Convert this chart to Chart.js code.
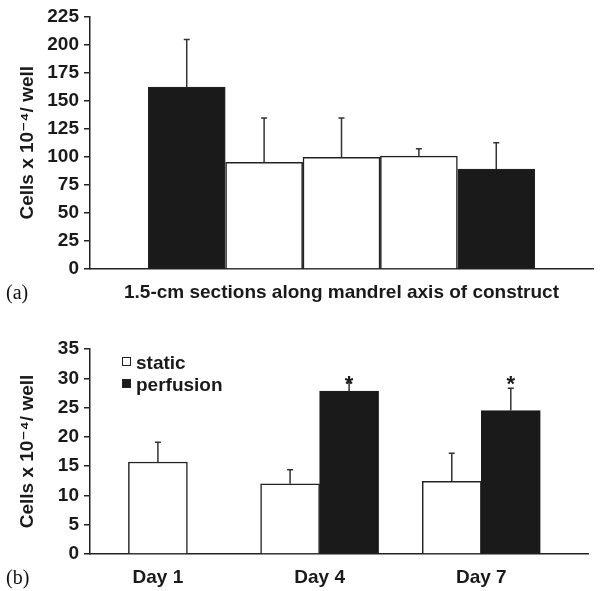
<!DOCTYPE html>
<html>
<head>
<meta charset="utf-8">
<script src="https://cdn.jsdelivr.net/npm/chart.js@4"></script>
<style>
  body { margin: 0; background: #fff; }
  #wrap { position: relative; width: 600px; height: 591px; background: #fff; overflow: hidden; }
  .box { position: absolute; left: 0; width: 600px; }
  .panel { position: absolute; font-family: "Liberation Serif", serif; font-size: 20px; color: #111; line-height: 20px; }
</style>
</head>
<body>
<div id="wrap">
  <div class="box" style="top:0;height:305px"><canvas id="chartA"></canvas></div>
  <div class="box" style="top:300px;height:291px"><canvas id="chartB"></canvas></div>
  <div class="panel" style="left:6px;top:282px">(a)</div>
  <div class="panel" style="left:6px;top:567px">(b)</div>
</div>
<script>
// panel (a): five 1.5-cm sections
const sections = ['1', '2', '3', '4', '5'];
const sectionPos = [1, 2, 3, 4, 5];
const sectionMeans = [162, 95, 99.5, 100.5, 89];
const sectionErr = [42.5, 39.5, 35, 6.5, 23.5];
const sectionFill = ['#1a1a1a', '#ffffff', '#ffffff', '#ffffff', '#1a1a1a'];
const ticksA = [0, 25, 50, 75, 100, 125, 150, 175, 200, 225];

// panel (b): static vs perfusion
const days = ['Day 1', 'Day 4', 'Day 7'];
const dayPos = [1, 2, 3];
const staticMeans = [15.7, 12.0, 12.4];
const staticErr = [3.4, 2.4, 4.8];
const perfusionMeans = [null, 27.8, 24.5];
const perfusionErr = [null, 1.5, 3.8];
const perfusionSig = [false, true, true];
const ticksB = [0, 5, 10, 15, 20, 25, 30, 35];

const INK = '#1a1a1a';
const FONT = '"Liberation Sans", Arial, "DejaVu Sans", sans-serif';
const yTitle = 'Cells x 10\u207B\u2074/ well';

const errorBars = {
    id: 'errorBars',
    afterDatasetsDraw(chart) {
        const ctx = chart.ctx;
        const yScale = chart.scales.y;
        let starLevel = null;
        const stars = [];
        chart.data.datasets.forEach((ds, i) => {
            if (!ds.errors) return;
            const meta = chart.getDatasetMeta(i);
            meta.data.forEach((bar, j) => {
                const v = ds.data[j].y;
                const e = ds.errors[j];
                if (v == null || e == null) return;
                const top = yScale.getPixelForValue(v + e);
                ctx.save();
                ctx.strokeStyle = '#333';
                ctx.lineWidth = 1.5;
                ctx.beginPath();
                ctx.moveTo(bar.x, bar.y);
                ctx.lineTo(bar.x, top);
                ctx.moveTo(bar.x - 3, top);
                ctx.lineTo(bar.x + 3, top);
                ctx.stroke();
                ctx.restore();
                if (ds.marks && ds.marks[j]) {
                    stars.push(bar.x);
                    starLevel = starLevel == null ? top : Math.min(starLevel, top);
                }
            });
        });
        // significance stars sit on one common line
        stars.forEach(x => {
            ctx.save();
            ctx.font = 'bold 22px ' + FONT;
            ctx.fillStyle = INK;
            ctx.textAlign = 'center';
            ctx.textBaseline = 'alphabetic';
            ctx.fillText('*', x, starLevel + 9);
            ctx.restore();
        });
    }
};

const boxLegend = {
    id: 'boxLegend',
    afterDraw(chart) {
        const {ctx, chartArea} = chart;
        chart.data.datasets.forEach((ds, i) => {
            const x = chartArea.left + 32;
            const y = chartArea.top + 8 + i * 22;
            ctx.save();
            ctx.fillStyle = ds.backgroundColor;
            ctx.fillRect(x, y, 9, 9);
            ctx.strokeStyle = '#222';
            ctx.lineWidth = 1;
            ctx.strokeRect(x + 0.5, y + 0.5, 8, 8);
            ctx.font = 'bold 19px ' + FONT;
            ctx.fillStyle = INK;
            ctx.textBaseline = 'alphabetic';
            ctx.fillText(ds.label, x + 14, y + 11.5);
            ctx.restore();
        });
    }
};

function yAxis(max, ticks, width) {
    return {
        min: 0,
        max: max,
        afterBuildTicks: s => { s.ticks = ticks.map(v => ({value: v})); },
        afterFit: s => { s.width = width; },
        grid: { display: true, drawOnChartArea: false, drawTicks: true, tickLength: 6, color: '#222', lineWidth: 1.5 },
        border: { display: true, color: '#222', width: 1.5 },
        ticks: { color: INK, padding: 5, font: { family: FONT, size: 19, weight: 'bold' } },
        title: { display: true, text: yTitle, color: INK, padding: { top: 16, bottom: 0 },
                 font: { family: FONT, size: 19, weight: 'bold' } }
    };
}

new Chart(document.getElementById('chartA'), {
    type: 'bar',
    data: {
        datasets: [{
            label: 'cells',
            data: sectionPos.map((p, i) => ({x: p, y: sectionMeans[i]})),
            errors: sectionErr,
            backgroundColor: sectionFill,
            borderColor: '#222',
            borderWidth: 1.5,
            barThickness: 77
        }]
    },
    options: {
        responsive: true,
        maintainAspectRatio: false,
        animation: false,
        layout: { padding: { top: 14, right: 7, left: 0, bottom: 0 } },
        plugins: { legend: { display: false }, tooltip: { enabled: false } },
        scales: {
            x: {
                type: 'linear',
                offset: false,
                min: -0.25,
                max: 6.25,
                afterFit: s => { s.height = 36; },
                grid: { display: false, drawTicks: false, offset: false },
                border: { display: true, color: '#222', width: 1.5 },
                ticks: { display: false },
                title: { display: true, text: '1.5-cm sections along mandrel axis of construct', color: INK,
                         padding: { top: 0, bottom: 1 }, font: { family: FONT, size: 19, weight: 'bold' } }
            },
            y: yAxis(225, ticksA, 90)
        }
    },
    plugins: [errorBars]
});

new Chart(document.getElementById('chartB'), {
    type: 'bar',
    data: {
        datasets: [{
            label: 'static',
            data: dayPos.map((p, i) => ({x: p, y: staticMeans[i]})),
            errors: staticErr,
            backgroundColor: '#ffffff',
            borderColor: '#222',
            borderWidth: 1.5,
            barThickness: 59,
            skipNull: true
        }, {
            label: 'perfusion',
            data: dayPos.map((p, i) => ({x: p, y: perfusionMeans[i]})),
            errors: perfusionErr,
            marks: perfusionSig,
            backgroundColor: '#1a1a1a',
            borderColor: '#1a1a1a',
            borderWidth: 1.5,
            barThickness: 59,
            skipNull: true
        }]
    },
    options: {
        responsive: true,
        maintainAspectRatio: false,
        animation: false,
        layout: { padding: { top: 49, right: 12, left: 0, bottom: 0 } },
        plugins: { legend: { display: false }, tooltip: { enabled: false } },
        scales: {
            x: {
                type: 'linear',
                offset: false,
                min: 0.58,
                max: 3.66,
                afterBuildTicks: s => { s.ticks = dayPos.map(v => ({value: v})); },
                afterFit: s => { s.height = 37; },
                grid: { display: false, drawTicks: false, offset: false },
                border: { display: true, color: '#222', width: 1.5 },
                ticks: { color: INK, padding: 12, autoSkip: false, maxRotation: 0,
                         callback: v => days[dayPos.indexOf(v)],
                         font: { family: FONT, size: 19, weight: 'bold' } }
            },
            y: yAxis(35, ticksB, 90)
        }
    },
    plugins: [errorBars, boxLegend]
});
</script>
</body>
</html>
